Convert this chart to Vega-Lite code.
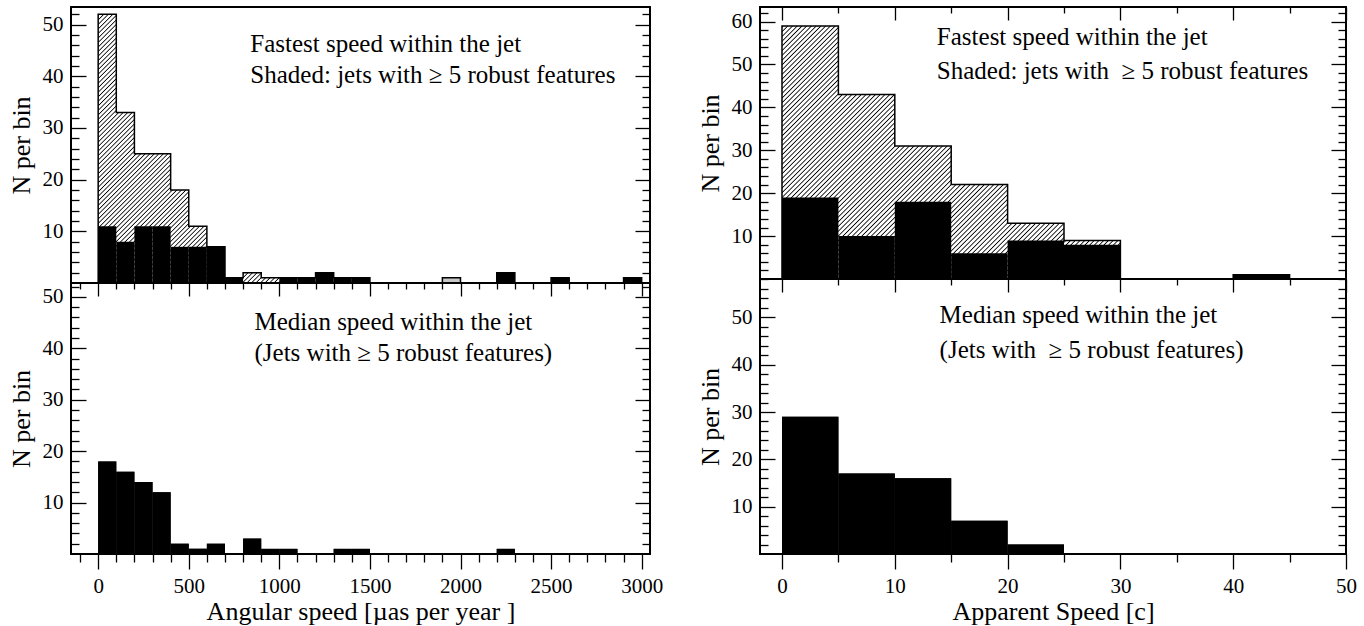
{
"$schema":"https://vega.github.io/schema/vega-lite/v6.json",
"padding":{"left":7,"top":1,"right":5,"bottom":5},
"config":{"view":{"stroke":"black","strokeWidth":2},"font":"Liberation Serif",
"axis":{"domain":false,"grid":false,"tickColor":"black","tickWidth":1.3,"labelFont":"Liberation Serif","labelFontSize":21,"labelColor":"black","labelFlush":false,"labelOverlap":false,"labelBound":false,"titleFont":"Liberation Serif","titleFontSize":26,"titleFontWeight":"normal","titleColor":"black","zindex":1,"format":"d"},
"text":{"font":"Liberation Serif","fontSize":25,"color":"black"}},
"datasets":{
"lt":[{"b0":0,"b1":100,"total":52,"robust":11},{"b0":100,"b1":200,"total":33,"robust":8},{"b0":200,"b1":300,"total":25,"robust":11},{"b0":300,"b1":400,"total":25,"robust":11},{"b0":400,"b1":500,"total":18,"robust":7},{"b0":500,"b1":600,"total":11,"robust":7},{"b0":600,"b1":700,"total":7,"robust":7},{"b0":700,"b1":800,"total":1,"robust":1},{"b0":800,"b1":900,"total":2,"robust":0},{"b0":900,"b1":1000,"total":1,"robust":0},{"b0":1000,"b1":1100,"total":1,"robust":1},{"b0":1100,"b1":1200,"total":1,"robust":1},{"b0":1200,"b1":1300,"total":2,"robust":2},{"b0":1300,"b1":1400,"total":1,"robust":1},{"b0":1400,"b1":1500,"total":1,"robust":1},{"b0":1500,"b1":1600,"total":0,"robust":0},{"b0":1600,"b1":1700,"total":0,"robust":0},{"b0":1700,"b1":1800,"total":0,"robust":0},{"b0":1800,"b1":1900,"total":0,"robust":0},{"b0":1900,"b1":2000,"total":1,"robust":0},{"b0":2000,"b1":2100,"total":0,"robust":0},{"b0":2100,"b1":2200,"total":0,"robust":0},{"b0":2200,"b1":2300,"total":2,"robust":2},{"b0":2300,"b1":2400,"total":0,"robust":0},{"b0":2400,"b1":2500,"total":0,"robust":0},{"b0":2500,"b1":2600,"total":1,"robust":1},{"b0":2600,"b1":2700,"total":0,"robust":0},{"b0":2700,"b1":2800,"total":0,"robust":0},{"b0":2800,"b1":2900,"total":0,"robust":0},{"b0":2900,"b1":3000,"total":1,"robust":1}],
"lm":[{"b0":0,"b1":100,"n":18},{"b0":100,"b1":200,"n":16},{"b0":200,"b1":300,"n":14},{"b0":300,"b1":400,"n":12},{"b0":400,"b1":500,"n":2},{"b0":500,"b1":600,"n":1},{"b0":600,"b1":700,"n":2},{"b0":800,"b1":900,"n":3},{"b0":900,"b1":1000,"n":1},{"b0":1000,"b1":1100,"n":1},{"b0":1300,"b1":1400,"n":1},{"b0":1400,"b1":1500,"n":1},{"b0":2200,"b1":2300,"n":1}],
"rt":[{"b0":0,"b1":5,"total":59,"robust":19},{"b0":5,"b1":10,"total":43,"robust":10},{"b0":10,"b1":15,"total":31,"robust":18},{"b0":15,"b1":20,"total":22,"robust":6},{"b0":20,"b1":25,"total":13,"robust":9},{"b0":25,"b1":30,"total":9,"robust":8},{"b0":30,"b1":35,"total":0,"robust":0},{"b0":35,"b1":40,"total":0,"robust":0},{"b0":40,"b1":45,"total":1,"robust":1}],
"rm":[{"b0":0,"b1":5,"n":29},{"b0":5,"b1":10,"n":17},{"b0":10,"b1":15,"n":16},{"b0":15,"b1":20,"n":7},{"b0":20,"b1":25,"n":2}]
},
"spacing":32,
"hconcat":[
{"spacing":0,"bounds":"flush","vconcat":[
{"width":579,"height":276,"resolve":{"axis":{"x":"independent","y":"independent"}},"layer":[
{"data":{"name":"lt"},"transform":[{"fold":["b0","b1"],"as":["edge","x"]}],
"mark":{"type":"area","orient":"vertical","interpolate":"linear","fillOpacity":1,"stroke":"black","strokeWidth":1.5,
"fill":{"gradient":"linear","x1":0,"y1":0,"x2":0.669,"y2":0.3309,"stops":[
{"offset":0,"color":"#fff"},{"offset":0.0025,"color":"#000"},{"offset":0.005,"color":"#fff"},
{"offset":0.01,"color":"#fff"},{"offset":0.0125,"color":"#000"},{"offset":0.015,"color":"#fff"},
{"offset":0.02,"color":"#fff"},{"offset":0.0225,"color":"#000"},{"offset":0.025,"color":"#fff"},
{"offset":0.03,"color":"#fff"},{"offset":0.0325,"color":"#000"},{"offset":0.035,"color":"#fff"},
{"offset":0.04,"color":"#fff"},{"offset":0.0425,"color":"#000"},{"offset":0.045,"color":"#fff"},
{"offset":0.05,"color":"#fff"},{"offset":0.0525,"color":"#000"},{"offset":0.055,"color":"#fff"},
{"offset":0.06,"color":"#fff"},{"offset":0.0625,"color":"#000"},{"offset":0.065,"color":"#fff"},
{"offset":0.07,"color":"#fff"},{"offset":0.0725,"color":"#000"},{"offset":0.075,"color":"#fff"},
{"offset":0.08,"color":"#fff"},{"offset":0.0825,"color":"#000"},{"offset":0.085,"color":"#fff"},
{"offset":0.09,"color":"#fff"},{"offset":0.0925,"color":"#000"},{"offset":0.095,"color":"#fff"},
{"offset":0.10,"color":"#fff"},{"offset":0.1025,"color":"#000"},{"offset":0.105,"color":"#fff"},
{"offset":0.11,"color":"#fff"},{"offset":0.1125,"color":"#000"},{"offset":0.115,"color":"#fff"},
{"offset":0.12,"color":"#fff"},{"offset":0.1225,"color":"#000"},{"offset":0.125,"color":"#fff"},
{"offset":0.13,"color":"#fff"},{"offset":0.1325,"color":"#000"},{"offset":0.135,"color":"#fff"},
{"offset":0.14,"color":"#fff"},{"offset":0.1425,"color":"#000"},{"offset":0.145,"color":"#fff"},
{"offset":0.15,"color":"#fff"},{"offset":0.1525,"color":"#000"},{"offset":0.155,"color":"#fff"},
{"offset":0.16,"color":"#fff"},{"offset":0.1625,"color":"#000"},{"offset":0.165,"color":"#fff"},
{"offset":0.17,"color":"#fff"},{"offset":0.1725,"color":"#000"},{"offset":0.175,"color":"#fff"},
{"offset":0.18,"color":"#fff"},{"offset":0.1825,"color":"#000"},{"offset":0.185,"color":"#fff"},
{"offset":0.19,"color":"#fff"},{"offset":0.1925,"color":"#000"},{"offset":0.195,"color":"#fff"},
{"offset":0.20,"color":"#fff"},{"offset":0.2025,"color":"#000"},{"offset":0.205,"color":"#fff"},
{"offset":0.21,"color":"#fff"},{"offset":0.2125,"color":"#000"},{"offset":0.215,"color":"#fff"},
{"offset":0.22,"color":"#fff"},{"offset":0.2225,"color":"#000"},{"offset":0.225,"color":"#fff"},
{"offset":0.23,"color":"#fff"},{"offset":0.2325,"color":"#000"},{"offset":0.235,"color":"#fff"},
{"offset":0.24,"color":"#fff"},{"offset":0.2425,"color":"#000"},{"offset":0.245,"color":"#fff"},
{"offset":0.25,"color":"#fff"},{"offset":0.2525,"color":"#000"},{"offset":0.255,"color":"#fff"},
{"offset":0.26,"color":"#fff"},{"offset":0.2625,"color":"#000"},{"offset":0.265,"color":"#fff"},
{"offset":0.27,"color":"#fff"},{"offset":0.2725,"color":"#000"},{"offset":0.275,"color":"#fff"},
{"offset":0.28,"color":"#fff"},{"offset":0.2825,"color":"#000"},{"offset":0.285,"color":"#fff"},
{"offset":0.29,"color":"#fff"},{"offset":0.2925,"color":"#000"},{"offset":0.295,"color":"#fff"},
{"offset":0.30,"color":"#fff"},{"offset":0.3025,"color":"#000"},{"offset":0.305,"color":"#fff"},
{"offset":0.31,"color":"#fff"},{"offset":0.3125,"color":"#000"},{"offset":0.315,"color":"#fff"},
{"offset":0.32,"color":"#fff"},{"offset":0.3225,"color":"#000"},{"offset":0.325,"color":"#fff"},
{"offset":0.33,"color":"#fff"},{"offset":0.3325,"color":"#000"},{"offset":0.335,"color":"#fff"},
{"offset":0.34,"color":"#fff"},{"offset":0.3425,"color":"#000"},{"offset":0.345,"color":"#fff"},
{"offset":0.35,"color":"#fff"},{"offset":0.3525,"color":"#000"},{"offset":0.355,"color":"#fff"},
{"offset":0.36,"color":"#fff"},{"offset":0.3625,"color":"#000"},{"offset":0.365,"color":"#fff"},
{"offset":0.37,"color":"#fff"},{"offset":0.3725,"color":"#000"},{"offset":0.375,"color":"#fff"},
{"offset":0.38,"color":"#fff"},{"offset":0.3825,"color":"#000"},{"offset":0.385,"color":"#fff"},
{"offset":0.39,"color":"#fff"},{"offset":0.3925,"color":"#000"},{"offset":0.395,"color":"#fff"},
{"offset":0.40,"color":"#fff"},{"offset":0.4025,"color":"#000"},{"offset":0.405,"color":"#fff"},
{"offset":0.41,"color":"#fff"},{"offset":0.4125,"color":"#000"},{"offset":0.415,"color":"#fff"},
{"offset":0.42,"color":"#fff"},{"offset":0.4225,"color":"#000"},{"offset":0.425,"color":"#fff"},
{"offset":0.43,"color":"#fff"},{"offset":0.4325,"color":"#000"},{"offset":0.435,"color":"#fff"},
{"offset":0.44,"color":"#fff"},{"offset":0.4425,"color":"#000"},{"offset":0.445,"color":"#fff"},
{"offset":0.45,"color":"#fff"},{"offset":0.4525,"color":"#000"},{"offset":0.455,"color":"#fff"},
{"offset":0.46,"color":"#fff"},{"offset":0.4625,"color":"#000"},{"offset":0.465,"color":"#fff"},
{"offset":0.47,"color":"#fff"},{"offset":0.4725,"color":"#000"},{"offset":0.475,"color":"#fff"},
{"offset":0.48,"color":"#fff"},{"offset":0.4825,"color":"#000"},{"offset":0.485,"color":"#fff"},
{"offset":0.49,"color":"#fff"},{"offset":0.4925,"color":"#000"},{"offset":0.495,"color":"#fff"},
{"offset":0.50,"color":"#fff"},{"offset":0.5025,"color":"#000"},{"offset":0.505,"color":"#fff"},
{"offset":0.51,"color":"#fff"},{"offset":0.5125,"color":"#000"},{"offset":0.515,"color":"#fff"},
{"offset":0.52,"color":"#fff"},{"offset":0.5225,"color":"#000"},{"offset":0.525,"color":"#fff"},
{"offset":0.53,"color":"#fff"},{"offset":0.5325,"color":"#000"},{"offset":0.535,"color":"#fff"},
{"offset":0.54,"color":"#fff"},{"offset":0.5425,"color":"#000"},{"offset":0.545,"color":"#fff"},
{"offset":0.55,"color":"#fff"},{"offset":0.5525,"color":"#000"},{"offset":0.555,"color":"#fff"},
{"offset":0.56,"color":"#fff"},{"offset":0.5625,"color":"#000"},{"offset":0.565,"color":"#fff"},
{"offset":0.57,"color":"#fff"},{"offset":0.5725,"color":"#000"},{"offset":0.575,"color":"#fff"},
{"offset":0.58,"color":"#fff"},{"offset":0.5825,"color":"#000"},{"offset":0.585,"color":"#fff"},
{"offset":0.59,"color":"#fff"},{"offset":0.5925,"color":"#000"},{"offset":0.595,"color":"#fff"},
{"offset":0.60,"color":"#fff"},{"offset":0.6025,"color":"#000"},{"offset":0.605,"color":"#fff"},
{"offset":0.61,"color":"#fff"},{"offset":0.6125,"color":"#000"},{"offset":0.615,"color":"#fff"},
{"offset":0.62,"color":"#fff"},{"offset":0.6225,"color":"#000"},{"offset":0.625,"color":"#fff"},
{"offset":0.63,"color":"#fff"},{"offset":0.6325,"color":"#000"},{"offset":0.635,"color":"#fff"},
{"offset":0.64,"color":"#fff"},{"offset":0.6425,"color":"#000"},{"offset":0.645,"color":"#fff"},
{"offset":0.65,"color":"#fff"},{"offset":0.6525,"color":"#000"},{"offset":0.655,"color":"#fff"},
{"offset":0.66,"color":"#fff"},{"offset":0.6625,"color":"#000"},{"offset":0.665,"color":"#fff"},
{"offset":0.67,"color":"#fff"},{"offset":0.6725,"color":"#000"},{"offset":0.675,"color":"#fff"},
{"offset":0.68,"color":"#fff"},{"offset":0.6825,"color":"#000"},{"offset":0.685,"color":"#fff"},
{"offset":0.69,"color":"#fff"},{"offset":0.6925,"color":"#000"},{"offset":0.695,"color":"#fff"},
{"offset":0.70,"color":"#fff"},{"offset":0.7025,"color":"#000"},{"offset":0.705,"color":"#fff"},
{"offset":0.71,"color":"#fff"},{"offset":0.7125,"color":"#000"},{"offset":0.715,"color":"#fff"},
{"offset":0.72,"color":"#fff"},{"offset":0.7225,"color":"#000"},{"offset":0.725,"color":"#fff"},
{"offset":0.73,"color":"#fff"},{"offset":0.7325,"color":"#000"},{"offset":0.735,"color":"#fff"},
{"offset":0.74,"color":"#fff"},{"offset":0.7425,"color":"#000"},{"offset":0.745,"color":"#fff"},
{"offset":0.75,"color":"#fff"},{"offset":0.7525,"color":"#000"},{"offset":0.755,"color":"#fff"},
{"offset":0.76,"color":"#fff"},{"offset":0.7625,"color":"#000"},{"offset":0.765,"color":"#fff"},
{"offset":0.77,"color":"#fff"},{"offset":0.7725,"color":"#000"},{"offset":0.775,"color":"#fff"},
{"offset":0.78,"color":"#fff"},{"offset":0.7825,"color":"#000"},{"offset":0.785,"color":"#fff"},
{"offset":0.79,"color":"#fff"},{"offset":0.7925,"color":"#000"},{"offset":0.795,"color":"#fff"},
{"offset":0.80,"color":"#fff"},{"offset":0.8025,"color":"#000"},{"offset":0.805,"color":"#fff"},
{"offset":0.81,"color":"#fff"},{"offset":0.8125,"color":"#000"},{"offset":0.815,"color":"#fff"},
{"offset":0.82,"color":"#fff"},{"offset":0.8225,"color":"#000"},{"offset":0.825,"color":"#fff"},
{"offset":0.83,"color":"#fff"},{"offset":0.8325,"color":"#000"},{"offset":0.835,"color":"#fff"},
{"offset":0.84,"color":"#fff"},{"offset":0.8425,"color":"#000"},{"offset":0.845,"color":"#fff"},
{"offset":0.85,"color":"#fff"},{"offset":0.8525,"color":"#000"},{"offset":0.855,"color":"#fff"},
{"offset":0.86,"color":"#fff"},{"offset":0.8625,"color":"#000"},{"offset":0.865,"color":"#fff"},
{"offset":0.87,"color":"#fff"},{"offset":0.8725,"color":"#000"},{"offset":0.875,"color":"#fff"},
{"offset":0.88,"color":"#fff"},{"offset":0.8825,"color":"#000"},{"offset":0.885,"color":"#fff"},
{"offset":0.89,"color":"#fff"},{"offset":0.8925,"color":"#000"},{"offset":0.895,"color":"#fff"},
{"offset":0.90,"color":"#fff"},{"offset":0.9025,"color":"#000"},{"offset":0.905,"color":"#fff"},
{"offset":0.91,"color":"#fff"},{"offset":0.9125,"color":"#000"},{"offset":0.915,"color":"#fff"},
{"offset":0.92,"color":"#fff"},{"offset":0.9225,"color":"#000"},{"offset":0.925,"color":"#fff"},
{"offset":0.93,"color":"#fff"},{"offset":0.9325,"color":"#000"},{"offset":0.935,"color":"#fff"},
{"offset":0.94,"color":"#fff"},{"offset":0.9425,"color":"#000"},{"offset":0.945,"color":"#fff"},
{"offset":0.95,"color":"#fff"},{"offset":0.9525,"color":"#000"},{"offset":0.955,"color":"#fff"},
{"offset":0.96,"color":"#fff"},{"offset":0.9625,"color":"#000"},{"offset":0.965,"color":"#fff"},
{"offset":0.97,"color":"#fff"},{"offset":0.9725,"color":"#000"},{"offset":0.975,"color":"#fff"},
{"offset":0.98,"color":"#fff"},{"offset":0.9825,"color":"#000"},{"offset":0.985,"color":"#fff"},
{"offset":0.99,"color":"#fff"},{"offset":0.9925,"color":"#000"},{"offset":0.995,"color":"#fff"},
{"offset":1,"color":"#c8c8c8"}]}},
"encoding":{"x":{"field":"x","type":"quantitative","scale":{"domain":[-150,3046],"nice":false,"zero":false},"axis":null},
"y":{"field":"total","type":"quantitative","stack":null,"scale":{"domain":[0,53.4],"nice":false},"axis":{"orient":"right","values":[2,4,6,8,10,12,14,16,18,20,22,24,26,28,30,32,34,36,38,40,42,44,46,48,50,52],"tickSize":{"condition":{"test":"datum.value % 10 === 0","value":-15},"value":-8},"labels":false,"title":null}},
"order":[{"field":"x","type":"quantitative"},{"field":"edge","sort":"descending"}]}},
{"data":{"name":"lt"},"mark":{"type":"rect","fill":"black"},
"encoding":{"x":{"field":"b0","type":"quantitative","scale":{"domain":[-150,3046],"nice":false,"zero":false},"axis":null},"x2":{"field":"b1"},
"y":{"field":"robust","type":"quantitative","scale":{"domain":[0,53.4],"nice":false},"axis":{"orient":"left","values":[2,4,6,8,10,12,14,16,18,20,22,24,26,28,30,32,34,36,38,40,42,44,46,48,50,52],"tickSize":{"condition":{"test":"datum.value % 10 === 0","value":-15},"value":-8},"labelExpr":"datum.value % 10 === 0 ? datum.label : ''","labelPadding":23,"title":"N per bin","titlePadding":8}},"y2":{"datum":0}}},
{"data":{"values":[{}]},"mark":{"type":"text","align":"left","baseline":"alphabetic","lineHeight":31},
"encoding":{"x":{"datum":840,"scale":{"domain":[-150,3046],"nice":false,"zero":false},"axis":null},"y":{"datum":44.7,"scale":{"domain":[0,53.4],"nice":false},"axis":null},"text":{"value":["Fastest speed within the jet","Shaded: jets with ≥ 5 robust features"]}}}
]},
{"width":579,"height":271,"resolve":{"axis":{"x":"independent","y":"independent"}},"layer":[
{"data":{"name":"lm"},"mark":{"type":"rect","fill":"black"},
"encoding":{"x":{"field":"b0","type":"quantitative","scale":{"domain":[-150,3046],"nice":false,"zero":false},"axis":{"orient":"bottom","values":[-100,0,100,200,300,400,500,600,700,800,900,1000,1100,1200,1300,1400,1500,1600,1700,1800,1900,2000,2100,2200,2300,2400,2500,2600,2700,2800,2900,3000],"tickSize":{"condition":{"test":"datum.value % 500 === 0","value":15},"value":8},"labelExpr":"datum.value % 500 === 0 ? datum.label : ''","labelPadding":6,"title":"Angular speed [µas per year ]","titlePadding":2}},"x2":{"field":"b1"},
"y":{"field":"n","type":"quantitative","scale":{"domain":[0,52.7],"nice":false},"axis":{"orient":"left","values":[2,4,6,8,10,12,14,16,18,20,22,24,26,28,30,32,34,36,38,40,42,44,46,48,50,52],"tickSize":{"condition":{"test":"datum.value % 10 === 0","value":-15},"value":-8},"labelExpr":"datum.value % 10 === 0 ? datum.label : ''","labelPadding":23,"title":"N per bin","titlePadding":8}},"y2":{"datum":0}}},
{"data":{"name":"lm"},"mark":{"type":"rect","fill":"black"},
"encoding":{"x":{"field":"b0","type":"quantitative","scale":{"domain":[-150,3046],"nice":false,"zero":false},"axis":{"orient":"top","values":[-100,0,100,200,300,400,500,600,700,800,900,1000,1100,1200,1300,1400,1500,1600,1700,1800,1900,2000,2100,2200,2300,2400,2500,2600,2700,2800,2900,3000],"tickSize":{"condition":{"test":"datum.value % 500 === 0","value":-13},"value":-6},"labels":false,"title":null}},"x2":{"field":"b1"},
"y":{"field":"n","type":"quantitative","scale":{"domain":[0,52.7],"nice":false},"axis":{"orient":"right","values":[2,4,6,8,10,12,14,16,18,20,22,24,26,28,30,32,34,36,38,40,42,44,46,48,50,52],"tickSize":{"condition":{"test":"datum.value % 10 === 0","value":-15},"value":-8},"labels":false,"title":null}},"y2":{"datum":0}}},
{"data":{"values":[{}]},"mark":{"type":"text","align":"left","baseline":"alphabetic","lineHeight":31},
"encoding":{"x":{"datum":863,"scale":{"domain":[-150,3046],"nice":false,"zero":false},"axis":null},"y":{"datum":43.5,"scale":{"domain":[0,52.7],"nice":false},"axis":null},"text":{"value":["Median speed within the jet","(Jets with ≥ 5 robust features)"]}}}
]}
]},
{"spacing":0,"bounds":"flush","vconcat":[
{"width":586,"height":272,"resolve":{"axis":{"x":"independent","y":"independent"}},"layer":[
{"data":{"name":"rt"},"transform":[{"fold":["b0","b1"],"as":["edge","x"]}],
"mark":{"type":"area","orient":"vertical","interpolate":"linear","fillOpacity":1,"stroke":"black","strokeWidth":1.5,
"fill":{"gradient":"linear","x1":0,"y1":0,"x2":0.934,"y2":0.4657,"stops":[
{"offset":0,"color":"#fff"},{"offset":0.002,"color":"#000"},{"offset":0.004,"color":"#fff"},
{"offset":0.008,"color":"#fff"},{"offset":0.010,"color":"#000"},{"offset":0.012,"color":"#fff"},
{"offset":0.016,"color":"#fff"},{"offset":0.018,"color":"#000"},{"offset":0.020,"color":"#fff"},
{"offset":0.024,"color":"#fff"},{"offset":0.026,"color":"#000"},{"offset":0.028,"color":"#fff"},
{"offset":0.032,"color":"#fff"},{"offset":0.034,"color":"#000"},{"offset":0.036,"color":"#fff"},
{"offset":0.040,"color":"#fff"},{"offset":0.042,"color":"#000"},{"offset":0.044,"color":"#fff"},
{"offset":0.048,"color":"#fff"},{"offset":0.050,"color":"#000"},{"offset":0.052,"color":"#fff"},
{"offset":0.056,"color":"#fff"},{"offset":0.058,"color":"#000"},{"offset":0.060,"color":"#fff"},
{"offset":0.064,"color":"#fff"},{"offset":0.066,"color":"#000"},{"offset":0.068,"color":"#fff"},
{"offset":0.072,"color":"#fff"},{"offset":0.074,"color":"#000"},{"offset":0.076,"color":"#fff"},
{"offset":0.080,"color":"#fff"},{"offset":0.082,"color":"#000"},{"offset":0.084,"color":"#fff"},
{"offset":0.088,"color":"#fff"},{"offset":0.090,"color":"#000"},{"offset":0.092,"color":"#fff"},
{"offset":0.096,"color":"#fff"},{"offset":0.098,"color":"#000"},{"offset":0.100,"color":"#fff"},
{"offset":0.104,"color":"#fff"},{"offset":0.106,"color":"#000"},{"offset":0.108,"color":"#fff"},
{"offset":0.112,"color":"#fff"},{"offset":0.114,"color":"#000"},{"offset":0.116,"color":"#fff"},
{"offset":0.120,"color":"#fff"},{"offset":0.122,"color":"#000"},{"offset":0.124,"color":"#fff"},
{"offset":0.128,"color":"#fff"},{"offset":0.130,"color":"#000"},{"offset":0.132,"color":"#fff"},
{"offset":0.136,"color":"#fff"},{"offset":0.138,"color":"#000"},{"offset":0.140,"color":"#fff"},
{"offset":0.144,"color":"#fff"},{"offset":0.146,"color":"#000"},{"offset":0.148,"color":"#fff"},
{"offset":0.152,"color":"#fff"},{"offset":0.154,"color":"#000"},{"offset":0.156,"color":"#fff"},
{"offset":0.160,"color":"#fff"},{"offset":0.162,"color":"#000"},{"offset":0.164,"color":"#fff"},
{"offset":0.168,"color":"#fff"},{"offset":0.170,"color":"#000"},{"offset":0.172,"color":"#fff"},
{"offset":0.176,"color":"#fff"},{"offset":0.178,"color":"#000"},{"offset":0.180,"color":"#fff"},
{"offset":0.184,"color":"#fff"},{"offset":0.186,"color":"#000"},{"offset":0.188,"color":"#fff"},
{"offset":0.192,"color":"#fff"},{"offset":0.194,"color":"#000"},{"offset":0.196,"color":"#fff"},
{"offset":0.200,"color":"#fff"},{"offset":0.202,"color":"#000"},{"offset":0.204,"color":"#fff"},
{"offset":0.208,"color":"#fff"},{"offset":0.210,"color":"#000"},{"offset":0.212,"color":"#fff"},
{"offset":0.216,"color":"#fff"},{"offset":0.218,"color":"#000"},{"offset":0.220,"color":"#fff"},
{"offset":0.224,"color":"#fff"},{"offset":0.226,"color":"#000"},{"offset":0.228,"color":"#fff"},
{"offset":0.232,"color":"#fff"},{"offset":0.234,"color":"#000"},{"offset":0.236,"color":"#fff"},
{"offset":0.240,"color":"#fff"},{"offset":0.242,"color":"#000"},{"offset":0.244,"color":"#fff"},
{"offset":0.248,"color":"#fff"},{"offset":0.250,"color":"#000"},{"offset":0.252,"color":"#fff"},
{"offset":0.256,"color":"#fff"},{"offset":0.258,"color":"#000"},{"offset":0.260,"color":"#fff"},
{"offset":0.264,"color":"#fff"},{"offset":0.266,"color":"#000"},{"offset":0.268,"color":"#fff"},
{"offset":0.272,"color":"#fff"},{"offset":0.274,"color":"#000"},{"offset":0.276,"color":"#fff"},
{"offset":0.280,"color":"#fff"},{"offset":0.282,"color":"#000"},{"offset":0.284,"color":"#fff"},
{"offset":0.288,"color":"#fff"},{"offset":0.290,"color":"#000"},{"offset":0.292,"color":"#fff"},
{"offset":0.296,"color":"#fff"},{"offset":0.298,"color":"#000"},{"offset":0.300,"color":"#fff"},
{"offset":0.304,"color":"#fff"},{"offset":0.306,"color":"#000"},{"offset":0.308,"color":"#fff"},
{"offset":0.312,"color":"#fff"},{"offset":0.314,"color":"#000"},{"offset":0.316,"color":"#fff"},
{"offset":0.320,"color":"#fff"},{"offset":0.322,"color":"#000"},{"offset":0.324,"color":"#fff"},
{"offset":0.328,"color":"#fff"},{"offset":0.330,"color":"#000"},{"offset":0.332,"color":"#fff"},
{"offset":0.336,"color":"#fff"},{"offset":0.338,"color":"#000"},{"offset":0.340,"color":"#fff"},
{"offset":0.344,"color":"#fff"},{"offset":0.346,"color":"#000"},{"offset":0.348,"color":"#fff"},
{"offset":0.352,"color":"#fff"},{"offset":0.354,"color":"#000"},{"offset":0.356,"color":"#fff"},
{"offset":0.360,"color":"#fff"},{"offset":0.362,"color":"#000"},{"offset":0.364,"color":"#fff"},
{"offset":0.368,"color":"#fff"},{"offset":0.370,"color":"#000"},{"offset":0.372,"color":"#fff"},
{"offset":0.376,"color":"#fff"},{"offset":0.378,"color":"#000"},{"offset":0.380,"color":"#fff"},
{"offset":0.384,"color":"#fff"},{"offset":0.386,"color":"#000"},{"offset":0.388,"color":"#fff"},
{"offset":0.392,"color":"#fff"},{"offset":0.394,"color":"#000"},{"offset":0.396,"color":"#fff"},
{"offset":0.400,"color":"#fff"},{"offset":0.402,"color":"#000"},{"offset":0.404,"color":"#fff"},
{"offset":0.408,"color":"#fff"},{"offset":0.410,"color":"#000"},{"offset":0.412,"color":"#fff"},
{"offset":0.416,"color":"#fff"},{"offset":0.418,"color":"#000"},{"offset":0.420,"color":"#fff"},
{"offset":0.424,"color":"#fff"},{"offset":0.426,"color":"#000"},{"offset":0.428,"color":"#fff"},
{"offset":0.432,"color":"#fff"},{"offset":0.434,"color":"#000"},{"offset":0.436,"color":"#fff"},
{"offset":0.440,"color":"#fff"},{"offset":0.442,"color":"#000"},{"offset":0.444,"color":"#fff"},
{"offset":0.448,"color":"#fff"},{"offset":0.450,"color":"#000"},{"offset":0.452,"color":"#fff"},
{"offset":0.456,"color":"#fff"},{"offset":0.458,"color":"#000"},{"offset":0.460,"color":"#fff"},
{"offset":0.464,"color":"#fff"},{"offset":0.466,"color":"#000"},{"offset":0.468,"color":"#fff"},
{"offset":0.472,"color":"#fff"},{"offset":0.474,"color":"#000"},{"offset":0.476,"color":"#fff"},
{"offset":0.480,"color":"#fff"},{"offset":0.482,"color":"#000"},{"offset":0.484,"color":"#fff"},
{"offset":0.488,"color":"#fff"},{"offset":0.490,"color":"#000"},{"offset":0.492,"color":"#fff"},
{"offset":0.496,"color":"#fff"},{"offset":0.498,"color":"#000"},{"offset":0.500,"color":"#fff"},
{"offset":0.504,"color":"#fff"},{"offset":0.506,"color":"#000"},{"offset":0.508,"color":"#fff"},
{"offset":0.512,"color":"#fff"},{"offset":0.514,"color":"#000"},{"offset":0.516,"color":"#fff"},
{"offset":0.520,"color":"#fff"},{"offset":0.522,"color":"#000"},{"offset":0.524,"color":"#fff"},
{"offset":0.528,"color":"#fff"},{"offset":0.530,"color":"#000"},{"offset":0.532,"color":"#fff"},
{"offset":0.536,"color":"#fff"},{"offset":0.538,"color":"#000"},{"offset":0.540,"color":"#fff"},
{"offset":0.544,"color":"#fff"},{"offset":0.546,"color":"#000"},{"offset":0.548,"color":"#fff"},
{"offset":0.552,"color":"#fff"},{"offset":0.554,"color":"#000"},{"offset":0.556,"color":"#fff"},
{"offset":0.560,"color":"#fff"},{"offset":0.562,"color":"#000"},{"offset":0.564,"color":"#fff"},
{"offset":0.568,"color":"#fff"},{"offset":0.570,"color":"#000"},{"offset":0.572,"color":"#fff"},
{"offset":0.576,"color":"#fff"},{"offset":0.578,"color":"#000"},{"offset":0.580,"color":"#fff"},
{"offset":0.584,"color":"#fff"},{"offset":0.586,"color":"#000"},{"offset":0.588,"color":"#fff"},
{"offset":0.592,"color":"#fff"},{"offset":0.594,"color":"#000"},{"offset":0.596,"color":"#fff"},
{"offset":0.600,"color":"#fff"},{"offset":0.602,"color":"#000"},{"offset":0.604,"color":"#fff"},
{"offset":0.608,"color":"#fff"},{"offset":0.610,"color":"#000"},{"offset":0.612,"color":"#fff"},
{"offset":0.616,"color":"#fff"},{"offset":0.618,"color":"#000"},{"offset":0.620,"color":"#fff"},
{"offset":0.624,"color":"#fff"},{"offset":0.626,"color":"#000"},{"offset":0.628,"color":"#fff"},
{"offset":0.632,"color":"#fff"},{"offset":0.634,"color":"#000"},{"offset":0.636,"color":"#fff"},
{"offset":0.640,"color":"#fff"},{"offset":0.642,"color":"#000"},{"offset":0.644,"color":"#fff"},
{"offset":0.648,"color":"#fff"},{"offset":0.650,"color":"#000"},{"offset":0.652,"color":"#fff"},
{"offset":0.656,"color":"#fff"},{"offset":0.658,"color":"#000"},{"offset":0.660,"color":"#fff"},
{"offset":0.664,"color":"#fff"},{"offset":0.666,"color":"#000"},{"offset":0.668,"color":"#fff"},
{"offset":0.672,"color":"#fff"},{"offset":0.674,"color":"#000"},{"offset":0.676,"color":"#fff"},
{"offset":0.680,"color":"#fff"},{"offset":0.682,"color":"#000"},{"offset":0.684,"color":"#fff"},
{"offset":0.688,"color":"#fff"},{"offset":0.690,"color":"#000"},{"offset":0.692,"color":"#fff"},
{"offset":0.696,"color":"#fff"},{"offset":0.698,"color":"#000"},{"offset":0.700,"color":"#fff"},
{"offset":0.704,"color":"#fff"},{"offset":0.706,"color":"#000"},{"offset":0.708,"color":"#fff"},
{"offset":0.712,"color":"#fff"},{"offset":0.714,"color":"#000"},{"offset":0.716,"color":"#fff"},
{"offset":0.720,"color":"#fff"},{"offset":0.722,"color":"#000"},{"offset":0.724,"color":"#fff"},
{"offset":0.728,"color":"#fff"},{"offset":0.730,"color":"#000"},{"offset":0.732,"color":"#fff"},
{"offset":0.736,"color":"#fff"},{"offset":0.738,"color":"#000"},{"offset":0.740,"color":"#fff"},
{"offset":0.744,"color":"#fff"},{"offset":0.746,"color":"#000"},{"offset":0.748,"color":"#fff"},
{"offset":0.752,"color":"#fff"},{"offset":0.754,"color":"#000"},{"offset":0.756,"color":"#fff"},
{"offset":0.760,"color":"#fff"},{"offset":0.762,"color":"#000"},{"offset":0.764,"color":"#fff"},
{"offset":0.768,"color":"#fff"},{"offset":0.770,"color":"#000"},{"offset":0.772,"color":"#fff"},
{"offset":0.776,"color":"#fff"},{"offset":0.778,"color":"#000"},{"offset":0.780,"color":"#fff"},
{"offset":0.784,"color":"#fff"},{"offset":0.786,"color":"#000"},{"offset":0.788,"color":"#fff"},
{"offset":0.792,"color":"#fff"},{"offset":0.794,"color":"#000"},{"offset":0.796,"color":"#fff"},
{"offset":0.800,"color":"#fff"},{"offset":0.802,"color":"#000"},{"offset":0.804,"color":"#fff"},
{"offset":0.808,"color":"#fff"},{"offset":0.810,"color":"#000"},{"offset":0.812,"color":"#fff"},
{"offset":0.816,"color":"#fff"},{"offset":0.818,"color":"#000"},{"offset":0.820,"color":"#fff"},
{"offset":0.824,"color":"#fff"},{"offset":0.826,"color":"#000"},{"offset":0.828,"color":"#fff"},
{"offset":0.832,"color":"#fff"},{"offset":0.834,"color":"#000"},{"offset":0.836,"color":"#fff"},
{"offset":0.840,"color":"#fff"},{"offset":0.842,"color":"#000"},{"offset":0.844,"color":"#fff"},
{"offset":0.848,"color":"#fff"},{"offset":0.850,"color":"#000"},{"offset":0.852,"color":"#fff"},
{"offset":0.856,"color":"#fff"},{"offset":0.858,"color":"#000"},{"offset":0.860,"color":"#fff"},
{"offset":0.864,"color":"#fff"},{"offset":0.866,"color":"#000"},{"offset":0.868,"color":"#fff"},
{"offset":0.872,"color":"#fff"},{"offset":0.874,"color":"#000"},{"offset":0.876,"color":"#fff"},
{"offset":0.880,"color":"#fff"},{"offset":0.882,"color":"#000"},{"offset":0.884,"color":"#fff"},
{"offset":0.888,"color":"#fff"},{"offset":0.890,"color":"#000"},{"offset":0.892,"color":"#fff"},
{"offset":0.896,"color":"#fff"},{"offset":0.898,"color":"#000"},{"offset":0.900,"color":"#fff"},
{"offset":0.904,"color":"#fff"},{"offset":0.906,"color":"#000"},{"offset":0.908,"color":"#fff"},
{"offset":0.912,"color":"#fff"},{"offset":0.914,"color":"#000"},{"offset":0.916,"color":"#fff"},
{"offset":0.920,"color":"#fff"},{"offset":0.922,"color":"#000"},{"offset":0.924,"color":"#fff"},
{"offset":0.928,"color":"#fff"},{"offset":0.930,"color":"#000"},{"offset":0.932,"color":"#fff"},
{"offset":0.936,"color":"#fff"},{"offset":0.938,"color":"#000"},{"offset":0.940,"color":"#fff"},
{"offset":0.944,"color":"#fff"},{"offset":0.946,"color":"#000"},{"offset":0.948,"color":"#fff"},
{"offset":0.952,"color":"#fff"},{"offset":0.954,"color":"#000"},{"offset":0.956,"color":"#fff"},
{"offset":0.960,"color":"#fff"},{"offset":0.962,"color":"#000"},{"offset":0.964,"color":"#fff"},
{"offset":0.968,"color":"#fff"},{"offset":0.970,"color":"#000"},{"offset":0.972,"color":"#fff"},
{"offset":0.976,"color":"#fff"},{"offset":0.978,"color":"#000"},{"offset":0.980,"color":"#fff"},
{"offset":0.984,"color":"#fff"},{"offset":0.986,"color":"#000"},{"offset":0.988,"color":"#fff"},
{"offset":0.992,"color":"#fff"},{"offset":0.994,"color":"#000"},{"offset":0.996,"color":"#fff"},
{"offset":1,"color":"#c8c8c8"}]}},
"encoding":{"x":{"field":"x","type":"quantitative","scale":{"domain":[-1.95,50],"nice":false,"zero":false},"axis":{"orient":"top","values":[0,5,10,15,20,25,30,35,40,45,50],"tickSize":{"condition":{"test":"datum.value % 10 === 0","value":-13},"value":-6},"labels":false,"title":null}},
"y":{"field":"total","type":"quantitative","stack":null,"scale":{"domain":[0,63.4],"nice":false},"axis":{"orient":"right","values":[2,4,6,8,10,12,14,16,18,20,22,24,26,28,30,32,34,36,38,40,42,44,46,48,50,52,54,56,58,60,62],"tickSize":{"condition":{"test":"datum.value % 10 === 0","value":-15},"value":-8},"labels":false,"title":null}},
"order":[{"field":"x","type":"quantitative"},{"field":"edge","sort":"descending"}]}},
{"data":{"name":"rt"},"mark":{"type":"rect","fill":"black"},
"encoding":{"x":{"field":"b0","type":"quantitative","scale":{"domain":[-1.95,50],"nice":false,"zero":false},"axis":null},"x2":{"field":"b1"},
"y":{"field":"robust","type":"quantitative","scale":{"domain":[0,63.4],"nice":false},"axis":{"orient":"left","values":[2,4,6,8,10,12,14,16,18,20,22,24,26,28,30,32,34,36,38,40,42,44,46,48,50,52,54,56,58,60,62],"tickSize":{"condition":{"test":"datum.value % 10 === 0","value":-15},"value":-8},"labelExpr":"datum.value % 10 === 0 ? datum.label : ''","labelPadding":23,"title":"N per bin","titlePadding":8}},"y2":{"datum":0}}},
{"data":{"values":[{}]},"mark":{"type":"text","align":"left","baseline":"alphabetic","lineHeight":33.4},
"encoding":{"x":{"datum":13.73,"scale":{"domain":[-1.95,50],"nice":false,"zero":false},"axis":null},"y":{"datum":54.5,"scale":{"domain":[0,63.4],"nice":false},"axis":null},"text":{"value":["Fastest speed within the jet","Shaded: jets with\u00a0 ≥ 5 robust features"]}}}
]},
{"width":586,"height":275,"resolve":{"axis":{"x":"independent","y":"independent"}},"layer":[
{"data":{"name":"rm"},"mark":{"type":"rect","fill":"black"},
"encoding":{"x":{"field":"b0","type":"quantitative","scale":{"domain":[-1.95,50],"nice":false,"zero":false},"axis":{"orient":"bottom","values":[0,5,10,15,20,25,30,35,40,45,50],"tickSize":{"condition":{"test":"datum.value % 10 === 0","value":15},"value":8},"labelExpr":"datum.value % 10 === 0 ? datum.label : ''","labelPadding":6,"title":"Apparent Speed [c]","titlePadding":2}},"x2":{"field":"b1"},
"y":{"field":"n","type":"quantitative","scale":{"domain":[0,58.1],"nice":false},"axis":{"orient":"left","values":[2,4,6,8,10,12,14,16,18,20,22,24,26,28,30,32,34,36,38,40,42,44,46,48,50,52,54,56,58],"tickSize":{"condition":{"test":"datum.value % 10 === 0","value":-15},"value":-8},"labelExpr":"datum.value % 10 === 0 ? datum.label : ''","labelPadding":23,"title":"N per bin","titlePadding":8}},"y2":{"datum":0}}},
{"data":{"name":"rm"},"mark":{"type":"rect","fill":"black"},
"encoding":{"x":{"field":"b0","type":"quantitative","scale":{"domain":[-1.95,50],"nice":false,"zero":false},"axis":{"orient":"top","values":[0,5,10,15,20,25,30,35,40,45,50],"tickSize":{"condition":{"test":"datum.value % 10 === 0","value":-13},"value":-6},"labels":false,"title":null}},"x2":{"field":"b1"},
"y":{"field":"n","type":"quantitative","scale":{"domain":[0,58.1],"nice":false},"axis":{"orient":"right","values":[2,4,6,8,10,12,14,16,18,20,22,24,26,28,30,32,34,36,38,40,42,44,46,48,50,52,54,56,58],"tickSize":{"condition":{"test":"datum.value % 10 === 0","value":-15},"value":-8},"labels":false,"title":null}},"y2":{"datum":0}}},
{"data":{"values":[{}]},"mark":{"type":"text","align":"left","baseline":"alphabetic","lineHeight":35.6},
"encoding":{"x":{"datum":13.97,"scale":{"domain":[-1.95,50],"nice":false,"zero":false},"axis":null},"y":{"datum":48.9,"scale":{"domain":[0,58.1],"nice":false},"axis":null},"text":{"value":["Median speed within the jet","(Jets with\u00a0 ≥ 5 robust features)"]}}}
]}
]}
]
}
